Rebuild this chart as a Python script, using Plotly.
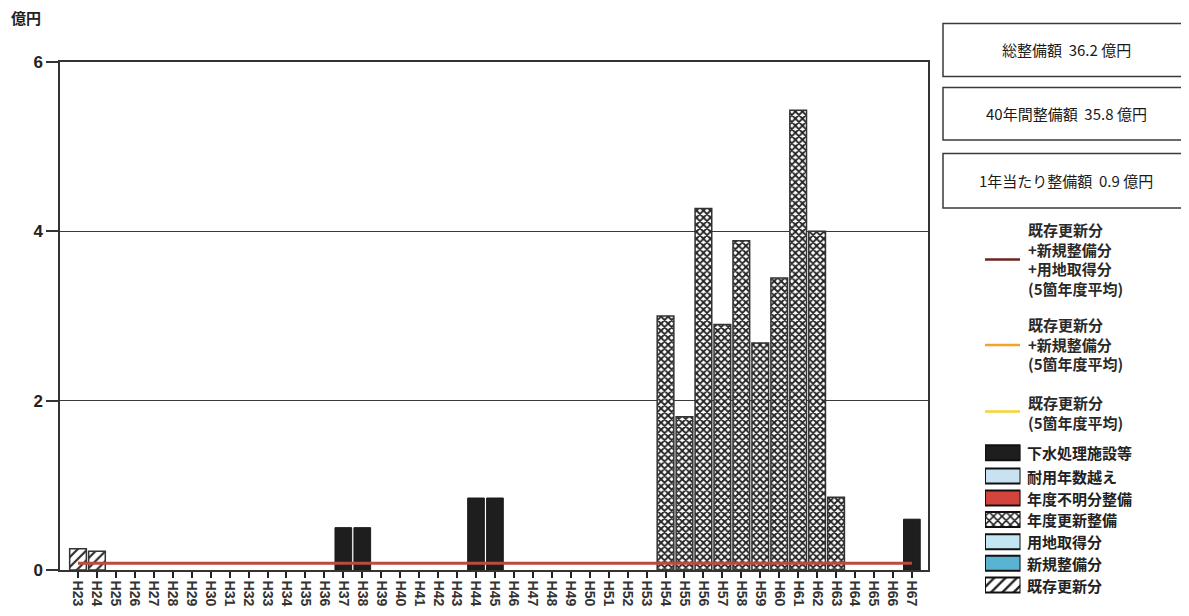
import plotly.graph_objects as go

# ---------------- data ----------------
years = ["H23", "H24", "H25", "H26", "H27", "H28", "H29", "H30", "H31", "H32",
         "H33", "H34", "H35", "H36", "H37", "H38", "H39", "H40", "H41", "H42",
         "H43", "H44", "H45", "H46", "H47", "H48", "H49", "H50", "H51", "H52",
         "H53", "H54", "H55", "H56", "H57", "H58", "H59", "H60", "H61", "H62",
         "H63", "H64", "H65", "H66", "H67"]

# 下水処理施設等
sewer_years = ["H37", "H38", "H44", "H45", "H67"]
sewer_vals = [0.50, 0.50, 0.85, 0.85, 0.60]

# 年度更新整備
renew_years = ["H54", "H55", "H56", "H57", "H58", "H59", "H60", "H61", "H62", "H63"]
renew_vals = [3.00, 1.81, 4.27, 2.90, 3.89, 2.68, 3.45, 5.43, 4.00, 0.86]

# 既存更新分
exist_years = ["H23", "H24"]
exist_vals = [0.25, 0.22]

# 既存更新分+新規整備分+用地取得分 (5箇年度平均)
avg_vals = [0.08, 0.08, 0.08, 0.08, 0.08, 0.08, 0.08, 0.08, 0.08, 0.08,
            0.08, 0.08, 0.08, 0.08, 0.08, 0.08, 0.08, 0.08, 0.08, 0.08,
            0.08, 0.08, 0.08, 0.08, 0.08, 0.08, 0.08, 0.08, 0.08, 0.08,
            0.08, 0.08, 0.08, 0.08, 0.08, 0.08, 0.08, 0.08, 0.08, 0.08,
            0.08, 0.08, 0.08, 0.08, 0.08]

y_ticks = [0, 2, 4, 6]

summary_texts = ["総整備額  36.2 億円", "40年間整備額  35.8 億円", "1年当たり整備額  0.9 億円"]
line_legend = [
    ("既存更新分<br>+新規整備分<br>+用地取得分<br>(5箇年度平均)", "#6e2222"),
    ("既存更新分<br>+新規整備分<br>(5箇年度平均)", "#f0a428"),
    ("既存更新分<br>(5箇年度平均)", "#f5d431"),
]
bar_legend = ["下水処理施設等", "耐用年数越え", "年度不明分整備", "年度更新整備",
              "用地取得分", "新規整備分", "既存更新分"]

# ---------------- layout helpers ----------------
W, H = 1189, 616
OFF = 8  # page offset of the figure in the browser


def PX(x):
    return (x - OFF) / W


def PY(y):
    return 1 - (y - OFF) / H


JP = "Noto Sans CJK JP"
EDGE = "#333333"

fig = go.Figure()

# main bars
fig.add_trace(go.Bar(
    x=sewer_years, y=sewer_vals, width=0.88, name="下水処理施設等",
    marker=dict(color="#1e1e1e", line=dict(color="#1a1a1a", width=1)),
))
fig.add_trace(go.Bar(
    x=renew_years, y=renew_vals, width=0.88, name="年度更新整備",
    marker=dict(color="white", line=dict(color=EDGE, width=1.5),
                pattern=dict(shape="x", fgcolor="#222222", bgcolor="white",
                             size=5, solidity=0.6, fillmode="replace")),
))
fig.add_trace(go.Bar(
    x=exist_years, y=exist_vals, width=0.88, name="既存更新分",
    marker=dict(color="white", line=dict(color=EDGE, width=1.5),
                pattern=dict(shape="/", fgcolor="#2a2a2a", bgcolor="white",
                             size=7, solidity=0.3, fillmode="replace")),
))
fig.add_trace(go.Scatter(
    x=years, y=avg_vals, mode="lines", name="5箇年度平均",
    line=dict(color="#bb4a40", width=3),
))

# legend swatches (own hidden axes, pixel coordinates)
sw_rows = [452.7, 476.0, 498.0, 519.5, 541.7, 563.3, 585.0]
sw_styles = [
    dict(color="#1e1e1e"),
    dict(color="#c9e2f2"),
    dict(color="#d2443c"),
    dict(color="white", pattern=dict(shape="x", fgcolor="#222", bgcolor="white",
                                     size=6, solidity=0.45, fillmode="replace")),
    dict(color="#c2e6f2"),
    dict(color="#58b4d2"),
    dict(color="white", pattern=dict(shape="/", fgcolor="#222", bgcolor="white",
                                     size=8, solidity=0.3, fillmode="replace")),
]
for yy, st in zip(sw_rows, sw_styles):
    mk = dict(st)
    mk["line"] = dict(color="#111", width=2)
    fig.add_trace(go.Bar(
        x=[1], y=[yy], base=[0], orientation="h", width=[15],
        xaxis="x2", yaxis="y2", marker=mk, showlegend=False, hoverinfo="skip",
    ))

shapes = []
annotations = []

# summary boxes
box_y = [(23.5, 76.5), (87.5, 140), (153.5, 208)]
for (y0, y1), t in zip(box_y, summary_texts):
    shapes.append(dict(type="rect", xref="paper", yref="paper",
                       x0=PX(943), x1=PX(1187), y0=PY(y1), y1=PY(y0),
                       line=dict(color="#3a3a3a", width=1.5)))
    annotations.append(dict(xref="paper", yref="paper", x=PX(1066), y=PY((y0 + y1) / 2),
                            text=t, showarrow=False, xanchor="center", yanchor="middle",
                            font=dict(family=JP, size=15, color="#1a1a1a")))

# line legend (multi-line text blocks)
line_text_center = [259, 344, 412]
line_sample_y = [259.5, 345, 411.5]
for (txt, col), cy, ly in zip(line_legend, line_text_center, line_sample_y):
    shapes.append(dict(type="line", xref="paper", yref="paper",
                       x0=PX(985), x1=PX(1020), y0=PY(ly), y1=PY(ly),
                       line=dict(color=col, width=2.5)))
    annotations.append(dict(xref="paper", yref="paper", x=PX(1026), y=PY(cy),
                            text=txt, showarrow=False, xanchor="left", yanchor="middle",
                            align="left",
                            font=dict(family=JP, size=15, color="#2a2a2a", weight="bold")))

# bar legend texts
for t, yy in zip(bar_legend, sw_rows):
    annotations.append(dict(xref="paper", yref="paper", x=PX(1025), y=PY(yy),
                            text=t, showarrow=False, xanchor="left", yanchor="middle",
                            font=dict(family=JP, size=15, color="#222", weight="bold")))

# unit label
annotations.append(dict(xref="paper", yref="paper", x=PX(9), y=PY(17),
                        text="億円", showarrow=False, xanchor="left", yanchor="middle",
                        font=dict(family=JP, size=15, color="#222", weight="bold")))

fig.update_layout(
    width=W, height=H,
    margin=dict(l=0, r=0, t=0, b=0, pad=0, autoexpand=False),
    paper_bgcolor="white", plot_bgcolor="white",
    barmode="overlay",
    showlegend=False,
    shapes=shapes,
    annotations=annotations,
    xaxis=dict(
        domain=[PX(60), PX(928)],
        type="category", categoryorder="array", categoryarray=years,
        range=[-0.95, 44.85],
        tickmode="array", tickvals=years, ticktext=years,
        tickangle=90, ticks="outside", ticklen=6, tickwidth=2, tickcolor="#222",
        tickfont=dict(family="Liberation Sans", size=14, color="#333", weight="bold"),
        showline=True, linecolor=EDGE, linewidth=1.5, mirror=True,
        showgrid=False, zeroline=False, fixedrange=True, automargin=False,
    ),
    yaxis=dict(
        domain=[PY(570), PY(62)],
        range=[0, 6],
        tickmode="array", tickvals=y_ticks,
        ticks="outside", ticklen=12, tickwidth=1.5, tickcolor=EDGE,
        tickfont=dict(family="Liberation Sans", size=17, color="#222", weight="bold"),
        showline=True, linecolor=EDGE, linewidth=1.5, mirror=True,
        showgrid=True, gridcolor="#3a3a3a", gridwidth=1,
        zeroline=False, fixedrange=True, automargin=False,
    ),
    xaxis2=dict(domain=[PX(985), PX(1020.5)], range=[0, 1], anchor="y2",
                visible=False, fixedrange=True, automargin=False),
    yaxis2=dict(domain=[PY(600), PY(440)], range=[600, 440], anchor="x2",
                visible=False, fixedrange=True, automargin=False),
)

fig.write_html("out.html")
